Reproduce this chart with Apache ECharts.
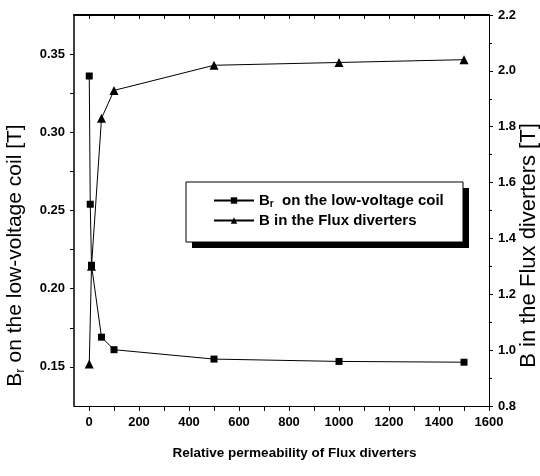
<!DOCTYPE html>
<html>
<head>
<meta charset="utf-8">
<script src="https://cdn.jsdelivr.net/npm/echarts@6/dist/echarts.min.js"></script>
<style>html,body{margin:0;padding:0;background:#fff}#c{width:540px;height:476px}</style>
</head>
<body>
<div id="c"></div>
<script>
// Data
const brX = [1, 5, 10, 50, 100, 500, 1000, 1500];
const brY = [0.336, 0.254, 0.215, 0.169, 0.161, 0.155, 0.1535, 0.153];
const bX = [1, 10, 50, 100, 500, 1000, 1500];
const bY = [0.95, 1.30, 1.83, 1.93, 2.02, 2.03, 2.04];
const xLabels = [0, 200, 400, 600, 800, 1000, 1200, 1400, 1600];
const xTicks = [0, 100, 200, 300, 400, 500, 600, 700, 800, 900, 1000, 1100, 1200, 1300, 1400, 1500, 1600];
const leftLabels = [0.15, 0.20, 0.25, 0.30, 0.35];
const leftTicks = [0.15, 0.175, 0.20, 0.225, 0.25, 0.275, 0.30, 0.325, 0.35];

const FONT = '"Liberation Sans", Arial, sans-serif';
const chart = echarts.init(document.getElementById('c'), null, {renderer: 'canvas'});
const lbl = {color: '#000', fontFamily: FONT, fontWeight: 'bold', fontSize: 13};
// legend frame (decoration: white box with offset black shadow)
const LG = {x: 186, y: 182, w: 277, h: 60, sh: 6};
chart.setOption({
  animation: false,
  backgroundColor: '#fff',
  grid: {left: 74, right: 51, top: 15, bottom: 70, outerBoundsMode: 'none', containLabel: false},
  graphic: [
    {type: 'rect', z: 10, shape: {x: LG.x + LG.sh, y: LG.y + LG.sh, width: LG.w, height: LG.h}, style: {fill: '#000'}},
    {type: 'rect', z: 11, shape: {x: LG.x, y: LG.y, width: LG.w, height: LG.h}, style: {fill: '#fff', stroke: '#000', lineWidth: 1}}
  ],
  legend: {
    left: LG.x, top: LG.y,
    orient: 'vertical',
    z: 20,
    padding: [11, 10, 11, 27],
    itemGap: 4,
    itemWidth: 40, itemHeight: 8,
    backgroundColor: 'transparent',
    borderWidth: 0,
    data: ['Br', 'B'],
    formatter: function (n) {
      return n === 'Br' ? '{b|B}{s|r}{b|  on the low-voltage coil}' : '{b|B in the Flux diverters}';
    },
    textStyle: {
      color: '#000', fontFamily: FONT, fontWeight: 'bold', fontSize: 15,
      rich: {
        b: {color: '#000', fontFamily: FONT, fontWeight: 'bold', fontSize: 15},
        s: {color: '#000', fontFamily: FONT, fontWeight: 'bold', fontSize: 10, verticalAlign: 'bottom', padding: [7, 0, 0, 0]}
      }
    }
  },
  xAxis: [{
    type: 'value', min: -60, max: 1600, position: 'bottom',
    name: 'Relative permeability of Flux diverters',
    nameLocation: 'middle', nameGap: 40, nameMoveOverlap: false,
    nameTextStyle: {color: '#000', fontFamily: FONT, fontWeight: 'bold', fontSize: 13.5, padding: [0, 0, 0, 26]},
    axisLine: {show: true, onZero: false, lineStyle: {color: '#000', width: 1}},
    axisTick: {show: true, inside: false, length: 5, customValues: xTicks, lineStyle: {color: '#000'}},
    axisLabel: Object.assign({margin: 10, customValues: xLabels, formatter: v => String(v)}, lbl),
    splitLine: {show: false}
  }, {
    type: 'value', min: -60, max: 1600, position: 'top',
    axisLine: {show: true, onZero: false, lineStyle: {color: '#000', width: 2}},
    axisTick: {show: true, inside: true, length: 4, customValues: xTicks, lineStyle: {color: '#000'}},
    axisLabel: {show: false},
    splitLine: {show: false}
  }],
  yAxis: [{
    type: 'value', min: 0.125, max: 0.375, position: 'left',
    name: '{b|B}{s|r}{b| on the low-voltage coil [T]}',
    nameLocation: 'middle', nameGap: 47, nameRotate: 90, nameMoveOverlap: false,
    nameTextStyle: {
      color: '#000', fontFamily: FONT, fontSize: 21,
      padding: [0, 90, 0, 0],
      rich: {
        b: {color: '#000', fontFamily: FONT, fontSize: 21},
        s: {color: '#000', fontFamily: FONT, fontSize: 13, verticalAlign: 'bottom', padding: [10, 0, 0, 0]}
      }
    },
    axisLine: {show: true, onZero: false, lineStyle: {color: '#000', width: 1.5}},
    axisTick: {show: true, inside: false, length: 4, customValues: leftTicks, lineStyle: {color: '#000'}},
    axisLabel: Object.assign({margin: 9, customValues: leftLabels, formatter: v => v.toFixed(2)}, lbl),
    splitLine: {show: false}
  }, {
    type: 'value', min: 0.8, max: 2.2, interval: 0.2, position: 'right',
    name: 'B in the Flux diverters [T]',
    nameLocation: 'middle', nameGap: 29, nameRotate: 90, nameMoveOverlap: false,
    nameTextStyle: {color: '#000', fontFamily: FONT, fontSize: 22, padding: [0, 70, 0, 0]},
    axisLine: {show: true, onZero: false, lineStyle: {color: '#000', width: 1}},
    axisTick: {show: true, inside: false, length: 4, lineStyle: {color: '#000'}},
    minorTick: {show: true, splitNumber: 2, length: 3, lineStyle: {color: '#000'}},
    axisLabel: Object.assign({margin: 9, formatter: v => v.toFixed(1)}, lbl),
    splitLine: {show: false}
  }],
  series: [{
    name: 'Br', type: 'line', xAxisIndex: 0, yAxisIndex: 0,
    data: brX.map((x, i) => [x, brY[i]]),
    symbol: 'rect', symbolSize: 7,
    itemStyle: {color: '#000'},
    lineStyle: {color: '#000', width: 1}
  }, {
    name: 'B', type: 'line', xAxisIndex: 0, yAxisIndex: 1,
    data: bX.map((x, i) => [x, bY[i]]),
    symbol: 'triangle', symbolSize: 9,
    itemStyle: {color: '#000'},
    lineStyle: {color: '#000', width: 1}
  }]
});
</script>
</body>
</html>
